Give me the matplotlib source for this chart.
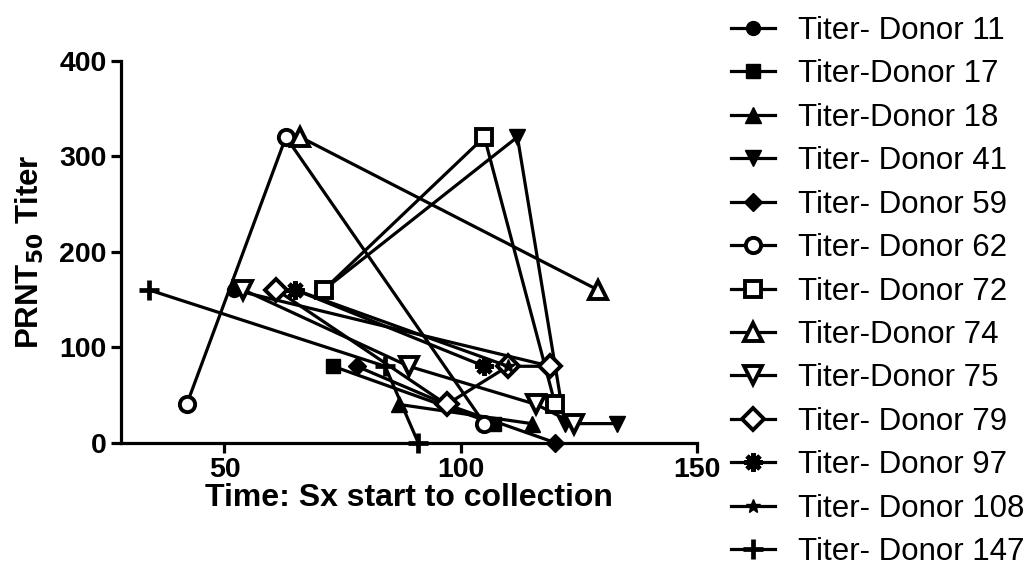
import matplotlib
matplotlib.use("Agg")
import matplotlib.pyplot as plt

plt.rcParams['font.family'] = ['Liberation Sans', 'DejaVu Sans']

labels = ["Titer- Donor 11", "Titer-Donor 17", "Titer-Donor 18", "Titer- Donor 41",
          "Titer- Donor 59", "Titer- Donor 62", "Titer- Donor 72", "Titer-Donor 74",
          "Titer-Donor 75", "Titer- Donor 79", "Titer- Donor 97", "Titer- Donor 108",
          "Titer- Donor 147"]

d11_x = [52, 119];            d11_y = [160, 80]
d17_x = [73, 107];            d17_y = [80, 20]
d18_x = [87, 115];            d18_y = [40, 20]
d41_x = [71, 112, 122, 133];  d41_y = [160, 320, 20, 20]
d59_x = [78, 97, 120];        d59_y = [80, 40, 0]
d62_x = [42, 63, 105];        d62_y = [40, 320, 20]
d72_x = [71, 105, 120];       d72_y = [160, 320, 40]
d74_x = [66, 129];            d74_y = [320, 160]
d75_x = [54, 89, 116, 124];   d75_y = [160, 80, 40, 20]
d79_x = [61, 97, 110, 119];   d79_y = [160, 40, 80, 80]
d97_x = [65, 105];            d97_y = [160, 80]
d108_x = [65, 110];           d108_y = [160, 80]
d147_x = [34, 84, 91];        d147_y = [160, 80, 0]

xs = [d11_x, d17_x, d18_x, d41_x, d59_x, d62_x, d72_x, d74_x, d75_x, d79_x, d97_x, d108_x, d147_x]
ys = [d11_y, d17_y, d18_y, d41_y, d59_y, d62_y, d72_y, d74_y, d75_y, d79_y, d97_y, d108_y, d147_y]

LW = 2.3
styles = [
    dict(marker='o', ms=10, mfc='black'),
    dict(marker='s', ms=10, mfc='black'),
    dict(marker='^', ms=11, mfc='black'),
    dict(marker='v', ms=11, mfc='black'),
    dict(marker='D', ms=9, mfc='black'),
    dict(marker='o', ms=11, mfc='white', mew=2.8),
    dict(marker='s', ms=11, mfc='white', mew=2.8),
    dict(marker='^', ms=13, mfc='white', mew=2.8),
    dict(marker='v', ms=13, mfc='white', mew=2.8),
    dict(marker='D', ms=11, mfc='white', mew=2.8),
    dict(marker=(8, 2, 0), ms=13, mfc='black', mew=3.4),
    dict(marker='*', ms=10, mfc='black'),
    dict(marker='+', ms=15, mfc='black', mew=3.4),
]

fig = plt.figure(figsize=(10.33, 5.67), dpi=100)
ax = fig.add_axes([0.1167, 0.2192, 0.558, 0.674])

handles = []
for x, y, st, lab in zip(xs, ys, styles, labels):
    h, = ax.plot(x, y, color='black', lw=LW, mec='black', label=lab,
                 clip_on=False, **st)
    handles.append(h)

ax.set_xlim(28, 150)
ax.set_ylim(0, 400)
ax.set_xticks([50, 100, 150])
ax.set_yticks([0, 100, 200, 300, 400])
ax.spines['top'].set_visible(False)
ax.spines['right'].set_visible(False)
for s in ['left', 'bottom']:
    ax.spines[s].set_linewidth(2.3)
ax.tick_params(direction='out', length=7, width=2.3, labelsize=20.5, pad=3)
for t in ax.get_xticklabels() + ax.get_yticklabels():
    t.set_fontweight('bold')

ax.set_xlabel("Time: Sx start to collection", fontsize=23, fontweight='bold', labelpad=0)
ax.set_ylabel(r"PRNT$_{\mathbf{50}}$ Titer", fontsize=22.5, fontweight='bold', labelpad=9.5)

fig.legend(handles=handles, loc='upper left', bbox_to_anchor=(0.696, 0.994),
           frameon=False, fontsize=22.5, handlelength=1.4, handletextpad=0.72,
           labelspacing=0.43, borderaxespad=0)

fig.savefig("out.png", dpi=100)
